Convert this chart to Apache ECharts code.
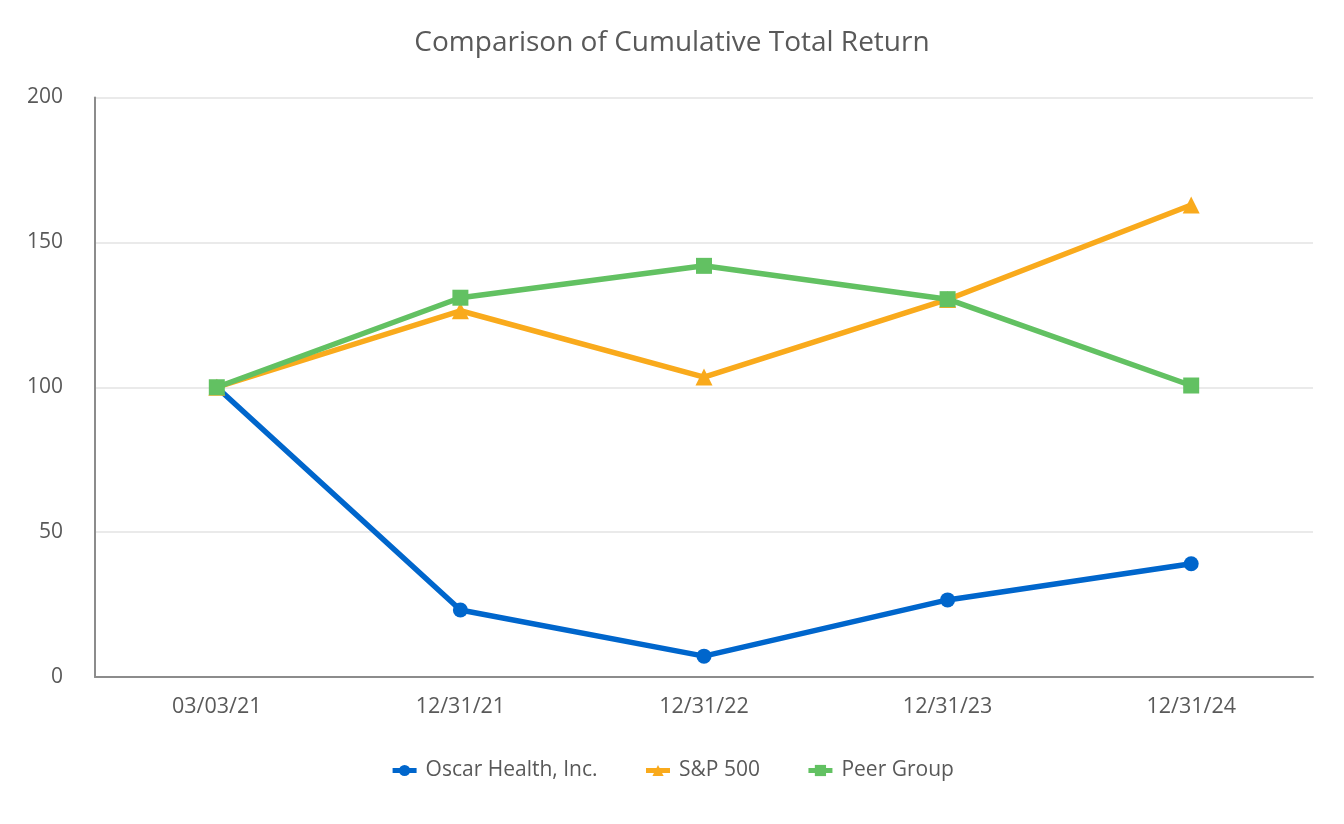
<!DOCTYPE html>
<html><head><meta charset="utf-8">
<script src="https://cdn.jsdelivr.net/npm/echarts@6/dist/echarts.min.js"></script>
<style>html,body{margin:0;padding:0;background:#fff}#c{width:1344px;height:824px}</style>
</head><body><div id="c"></div>
<script>
const categories = ['03/03/21','12/31/21','12/31/22','12/31/23','12/31/24'];
const oscar = [100, 23.1, 7.2, 26.6, 39.1];
const sp500 = [100, 126.4, 103.5, 130.3, 162.9];
const peer = [100, 130.9, 141.9, 130.4, 100.6];
const yTicks = [0, 50, 100, 150, 200];

const FONT = '"Open Sans", "Noto Sans", sans-serif';
const chart = echarts.init(document.getElementById('c'));
chart.setOption({
  backgroundColor: '#fff',
  animation: false,
  title: {
    text: 'Comparison of Cumulative Total Return',
    left: 'center', top: 24,
    textStyle: { fontFamily: FONT, fontSize: 28, fontWeight: 'normal', color: '#595959' }
  },
  legend: {
    bottom: 38, left: 'center', itemGap: 46, itemWidth: 24, itemHeight: 14,
    textStyle: { fontFamily: FONT, fontSize: 21, color: '#595959', padding: [0,0,0,4] },
    lineStyle: { width: 5 },
    data: ['Oscar Health, Inc.', 'S&P 500', 'Peer Group']
  },
  grid: { left: 95, right: 31, top: 97.5, bottom: 147, containLabel: false },
  xAxis: {
    type: 'category', data: categories, boundaryGap: true,
    axisLine: { lineStyle: { color: '#8c8c8c', width: 2 } },
    axisTick: { show: false },
    axisLabel: { fontFamily: FONT, fontSize: 21.5, color: '#595959', margin: 19 }
  },
  yAxis: {
    type: 'value', min: yTicks[0], max: yTicks[yTicks.length - 1], interval: 50,
    axisLine: { show: true, lineStyle: { color: '#8c8c8c', width: 2 } },
    axisTick: { show: false },
    splitLine: { lineStyle: { color: '#e3e3e3', width: 1.5 } },
    axisLabel: { fontFamily: FONT, fontSize: 21, color: '#595959', margin: 32 }
  },
  series: [
    { name: 'Oscar Health, Inc.', type: 'line', data: oscar, symbol: 'circle', symbolSize: 15,
      lineStyle: { color: '#0066cc', width: 5.5 }, itemStyle: { color: '#0066cc' }, z: 3 },
    { name: 'S&P 500', type: 'line', data: sp500, symbol: 'triangle', symbolSize: 17,
      lineStyle: { color: '#f9aa1c', width: 5.5 }, itemStyle: { color: '#f9aa1c' }, z: 4 },
    { name: 'Peer Group', type: 'line', data: peer, symbol: 'rect', symbolSize: 16,
      lineStyle: { color: '#62c162', width: 5.5 }, itemStyle: { color: '#62c162' }, z: 5 }
  ]
});
</script></body></html>
